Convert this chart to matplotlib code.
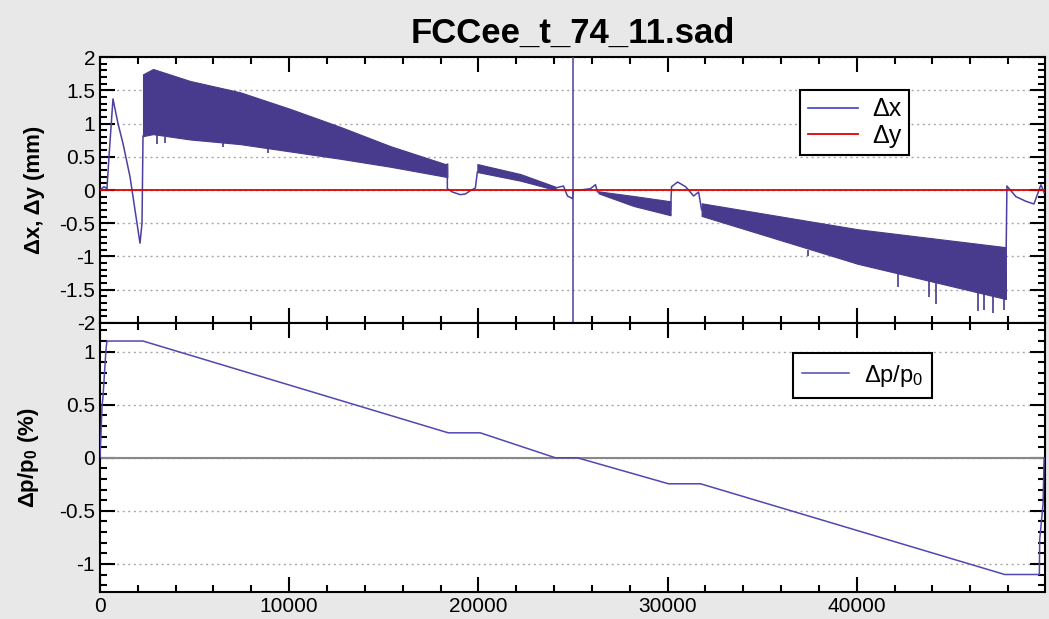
import matplotlib
matplotlib.use('Agg')
import matplotlib.pyplot as plt
from matplotlib.ticker import MultipleLocator, FormatStrFormatter

plt.rcParams['font.family'] = ['Liberation Sans', 'DejaVu Sans']
plt.rcParams['mathtext.fontset'] = 'custom'
plt.rcParams['mathtext.rm'] = 'Liberation Sans'
plt.rcParams['mathtext.bf'] = 'Liberation Sans:bold'
plt.rcParams['mathtext.default'] = 'regular'
plt.rcParams['axes.unicode_minus'] = False

title = 'FCCee_t_74_11.sad'

# dx: dense oscillation regions given as envelopes (s in m, dx in mm)
band1_s = [2275, 2804, 4762, 7407, 10053, 12698, 15344, 18254, 18360]
band1_hi = [1.74, 1.82, 1.64, 1.47, 1.22, 0.95, 0.66, 0.39, 0.40]
band1_lo = [0.81, 0.84, 0.76, 0.69, 0.58, 0.47, 0.35, 0.20, 0.19]
band2_s = [19947, 22222, 24074]
band2_hi = [0.39, 0.24, 0.05]
band2_lo = [0.27, 0.14, 0.00]
band3_s = [26349, 28201, 30159]
band3_hi = [-0.02, -0.09, -0.17]
band3_lo = [-0.05, -0.24, -0.38]
band4_s = [31799, 40053, 47884]
band4_hi = [-0.20, -0.59, -0.86]
band4_lo = [-0.39, -1.11, -1.64]

# a few visible spikes sticking out of the bands: (s, from, to)
spike_s_list = [3000, 3420, 6500, 8900, 37400, 42170, 43800, 44180, 46400, 46720, 47190, 47780]
spike_from = [0.82, 0.80, 0.71, 0.64, -0.90, -1.27, -1.36, -1.38, -1.52, -1.54, -1.58, -1.62]
spike_to = [0.69, 0.70, 0.65, 0.56, -1.00, -1.46, -1.61, -1.72, -1.82, -1.80, -1.85, -1.80]

# dx: plain line pieces between the bands
segA_s = [0, 212, 370, 476, 688, 952, 1217, 1587, 2116, 2222, 2275]
segA_dx = [0, 0.05, 0.02, 0.5, 1.37, 1.0, 0.7, 0.2, -0.8, -0.5, 0.81]
segB_s = [18360, 18360, 18624, 19048, 19312, 19577, 19841, 19947]
segB_dx = [0.30, 0.02, -0.03, -0.07, -0.06, -0.01, 0.03, 0.27]
segC_s = [24074, 24497, 24709, 24974, 25026, 25397, 25926, 26190, 26296, 26349]
segC_dx = [0.03, 0.06, -0.09, -0.13, 0.0, 0.0, 0.02, 0.08, -0.03, -0.03]
segD_s = [30159, 30212, 30529, 30952, 31376, 31640, 31799]
segD_dx = [-0.30, 0.05, 0.12, 0.05, -0.09, -0.03, -0.30]
segE_s = [47884, 47937, 48413, 48942, 49365, 49735, 49900]
segE_dx = [-1.20, 0.06, -0.10, -0.17, -0.21, 0.08, -0.04]
spike_s = 25000

dy_s = [0, 49900]
dy = [0, 0]

# dp/p0 (%)
dp_s = [0, 53, 106, 159, 317, 370, 423, 2275, 18410, 20100, 24070, 25230,
        30050, 31740, 47820, 49650, 49670, 49850, 49900]
dp = [0, 0.22, 0.48, 0.57, 1.02, 1.1, 1.1, 1.1, 0.235, 0.235, 0.0, 0.0,
      -0.245, -0.245, -1.1, -1.1, -0.77, -0.43, 0.0]

cx = '#483a8c'
cl = '#4b40a0'

fig = plt.figure(figsize=(10.49, 6.19), dpi=100, facecolor='#e8e8e8')
ax1 = fig.add_axes([0.0953, 0.4782, 0.9009, 0.4297])
ax2 = fig.add_axes([0.0953, 0.0436, 0.9009, 0.4346])

for s, hi, lo in [(band1_s, band1_hi, band1_lo), (band2_s, band2_hi, band2_lo),
                  (band3_s, band3_hi, band3_lo), (band4_s, band4_hi, band4_lo)]:
    ax1.fill_between(s, lo, hi, color=cx, lw=0.8, zorder=3)
ax1.vlines(spike_s_list, spike_from, spike_to, color=cx, lw=1.2, zorder=3)
for s, v in [(segA_s, segA_dx), (segB_s, segB_dx), (segC_s, segC_dx),
             (segD_s, segD_dx), (segE_s, segE_dx)]:
    ax1.plot(s, v, color=cl, lw=1.1, zorder=3)
ax1.axvline(spike_s, color=cl, lw=1.1, zorder=3)
ax1.plot([], [], color='#4040c0', lw=1.2, label='Δx')
ax1.plot(dy_s, dy, color='#e00000', lw=1.3, zorder=4, label='Δy')

ax2.axhline(0, color='#888888', lw=1.5, zorder=2)
ax2.plot(dp_s, dp, color='#5048b0', lw=1.1, zorder=3, label='Δp/p$_0$')

ax1.set_ylim(-2, 2)
ax2.set_ylim(-1.265, 1.27)
for ax in (ax1, ax2):
    ax.set_xlim(0, 49950)
    ax.xaxis.set_major_locator(MultipleLocator(10000))
    ax.xaxis.set_minor_locator(MultipleLocator(2000))
    ax.yaxis.set_major_locator(MultipleLocator(0.5))
    ax.yaxis.set_minor_locator(MultipleLocator(0.1))
    ax.yaxis.set_major_formatter(FormatStrFormatter('%g'))
    ax.tick_params(which='both', direction='in', top=True, right=True,
                   labelsize=15, width=1.5)
    ax.tick_params(which='major', length=11)
    ax.tick_params(which='minor', length=5)
    ax.grid(axis='y', which='major', color='#a8a8a8', ls=(0, (1.5, 2.5)), lw=1)
    ax.set_axisbelow(True)
    for sp in ax.spines.values():
        sp.set_linewidth(1.5)
ax1.tick_params(axis='x', labelbottom=False)
ax2.xaxis.set_major_formatter(FormatStrFormatter('%d'))

ax1.set_title(title, fontsize=25, fontweight='bold', pad=10)
ax1.set_ylabel('Δx, Δy (mm)', fontsize=16, fontweight='bold')
ax2.set_ylabel(r'Δp/p$_\mathbf{0}$ (%)', fontsize=16, fontweight='bold')
ax1.yaxis.set_label_coords(-0.058, 0.5)
ax2.yaxis.set_label_coords(-0.062, 0.5)

leg1 = ax1.legend(loc='upper left', bbox_to_anchor=(0.741, 0.876), fontsize=18,
                  fancybox=False, framealpha=1, edgecolor='black',
                  handlelength=2.0, borderpad=0.3, labelspacing=0.1,
                  handletextpad=0.6, borderaxespad=0)
leg1.get_frame().set_linewidth(1.5)
leg2 = ax2.legend(loc='upper left', bbox_to_anchor=(0.733, 0.888), fontsize=17,
                  fancybox=False, framealpha=1, edgecolor='black',
                  handlelength=2.0, borderpad=0.4, handletextpad=0.6,
                  borderaxespad=0)
leg2.get_frame().set_linewidth(1.5)

fig.savefig('out.png', dpi=100, facecolor=fig.get_facecolor())
